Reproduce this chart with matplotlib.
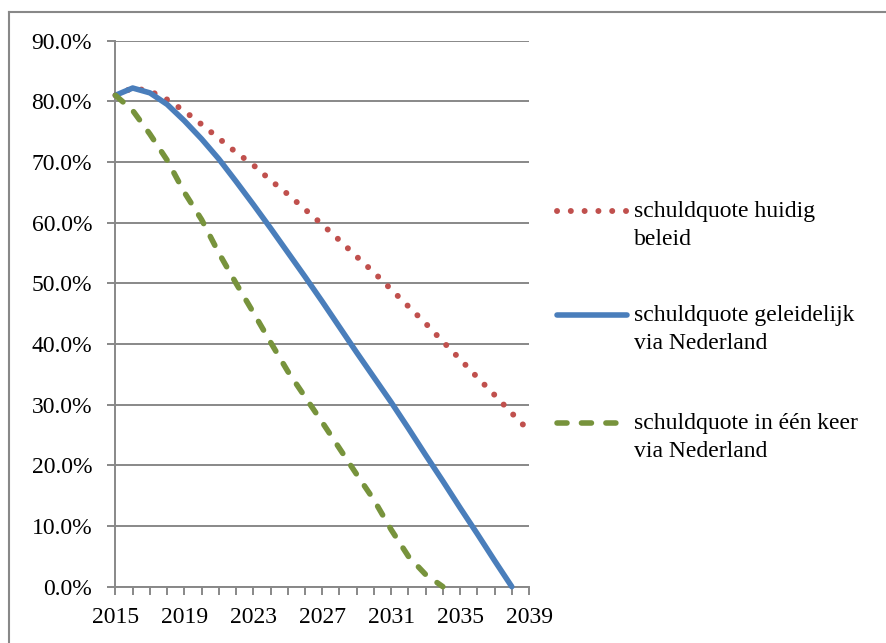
import numpy as np
import matplotlib
matplotlib.use("Agg")
import matplotlib.pyplot as plt
from matplotlib.lines import Line2D

# Data (schuldquote, fraction of GDP)
jaren = list(range(2015, 2040))
huidig_beleid = [0.810, 0.822, 0.817, 0.803, 0.784, 0.762, 0.739, 0.716, 0.695, 0.670,
                 0.647, 0.622, 0.597, 0.571, 0.544, 0.518, 0.490, 0.462, 0.434, 0.404,
                 0.375, 0.345, 0.316, 0.286, 0.257]
geleidelijk = [0.810, 0.822, 0.814, 0.795, 0.768, 0.738, 0.705, 0.668, 0.630, 0.591,
               0.551, 0.511, 0.470, 0.428, 0.386, 0.345, 0.304, 0.261, 0.217, 0.174,
               0.130, 0.087, 0.043, 0.000, np.nan]
een_keer = [0.810, 0.785, 0.746, 0.703, 0.650, 0.605, 0.550, 0.500, 0.452, 0.403,
            0.355, 0.313, 0.271, 0.228, 0.185, 0.143, 0.094, 0.050, 0.020, 0.000,
            np.nan, np.nan, np.nan, np.nan, np.nan]
labels = ['schuldquote huidig\nbeleid',
          'schuldquote geleidelijk\nvia Nederland',
          'schuldquote in één keer\nvia Nederland']

plt.rcParams['font.family'] = ['Liberation Serif', 'DejaVu Serif']
grijs = '#888888'
kleuren = ['#C0504D', '#4A7EBB', '#77933C']
stijlen = [(0, (0.01, 2.3)), '-', (0, (1.8, 2.6))]
breedtes = [4.3, 4.0, 4.0]

fig = plt.figure(figsize=(8.86, 6.43), dpi=100)
ax = fig.add_axes([0.1303, 0.0876, 0.4668, 0.8491])

x = np.arange(len(jaren))
for reeks, kleur, stijl, lw in zip([huidig_beleid, geleidelijk, een_keer], kleuren, stijlen, breedtes):
    ax.plot(x, reeks, color=kleur, linestyle=stijl, linewidth=lw,
            dash_capstyle='round', solid_capstyle='round', clip_on=False, zorder=3)

ax.set_xlim(0, len(jaren) - 1)
ax.set_ylim(0, 0.9)
ax.set_xticks(x)
ax.set_xticklabels([str(j) if (j - 2015) % 4 == 0 else '' for j in jaren])
ax.set_yticks(np.arange(0, 0.91, 0.1))
ax.set_yticklabels(['%.1f%%' % (v * 100) for v in np.arange(0, 0.91, 0.1)])
ax.tick_params(axis='both', direction='out', length=5.8, width=1.4, color=grijs,
               labelsize=17, labelcolor='black')
ax.tick_params(axis='x', pad=9)
ax.tick_params(axis='y', pad=11)
ax.grid(axis='y', color=grijs, linewidth=1.4)
ax.set_axisbelow(True)
for s in ['top', 'right']:
    ax.spines[s].set_visible(False)
for s in ['left', 'bottom']:
    ax.spines[s].set_color(grijs)
    ax.spines[s].set_linewidth(1.4)

# Legend drawn by hand so the sample lines sit on the first text line
W, H = 886, 643
leg_y = [211, 315, 423]
for kleur, stijl, lw, label, yp in zip(kleuren, stijlen, breedtes, labels, leg_y):
    yf = 1 - yp / H
    fig.add_artist(Line2D([557 / W, 627 / W], [yf, yf], color=kleur, linestyle=stijl,
                          linewidth=lw, dash_capstyle='round', solid_capstyle='round',
                          transform=fig.transFigure))
    fig.text(634 / W, yf + 10 / H, label, fontsize=17, va='top', ha='left',
             linespacing=1.45)

# chart frame (cut off at right and bottom)
fig.add_artist(Line2D([9 / W, 9 / W], [0, 1 - 12 / H], color=grijs, linewidth=1.5,
                      transform=fig.transFigure))
fig.add_artist(Line2D([9 / W, 1], [1 - 12 / H, 1 - 12 / H], color=grijs, linewidth=1.5,
                      transform=fig.transFigure))

fig.savefig('out.png', dpi=100)
